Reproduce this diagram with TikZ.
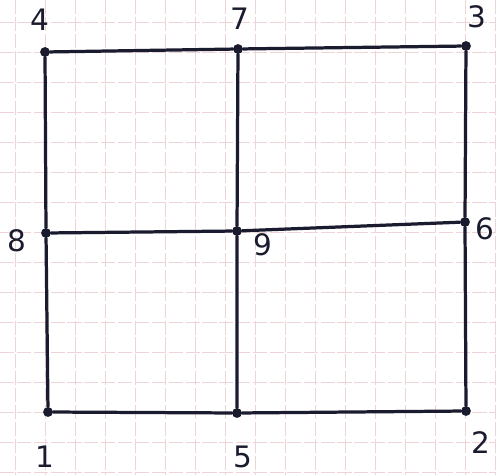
\documentclass[tikz,border=0pt]{standalone}
\usepackage{fontspec}
\setmainfont{DejaVu Sans}
\definecolor{ink}{HTML}{1A1B2E}
\definecolor{paper}{HTML}{EED3D7}

\begin{document}
\begin{tikzpicture}[x=0.025cm,y=-0.025cm,
 vertex/.style={circle,fill=ink,inner sep=0pt,minimum size=7pt},
 edge/.style={ink,line width=2.3pt,line cap=round,line join=round},
 tag/.style={ink,font=\fontsize{21}{23}\selectfont},
 ruling/.style={paper,line width=0.5pt,dash pattern=on 10pt off 2pt}]
\useasboundingbox (0,0) rectangle (496,475);

% Squared paper under the drawing.
\foreach \gx in {15,45,...,495} \draw[ruling] (\gx,0) -- (\gx,475);
\foreach \gy in {22,52,...,472} \draw[ruling] (0,\gy) -- (496,\gy);

% Vertices of the 3x3 grid graph.
\node[vertex] (v4) at (45,52) {};
\node[vertex] (v7) at (238,49) {};
\node[vertex] (v3) at (466,46) {};
\node[vertex] (v8) at (46,233) {};
\node[vertex] (v9) at (237,231) {};
\node[vertex] (v6) at (465,222) {};
\node[vertex] (v1) at (48,412) {};
\node[vertex] (v5) at (237,413) {};
\node[vertex] (v2) at (466,411) {};

% Rows, then columns.
\draw[edge] (v4) -- (v7) -- (v3);
\draw[edge] (v8) -- (v9) -- (v6);
\draw[edge] (v1) -- (v5) -- (v2);
\draw[edge] (v4) -- (v8) -- (v1);
\draw[edge] (v7) -- (v9) -- (v5);
\draw[edge] (v3) -- (v6) -- (v2);

% Hand-written numbers beside the dots.
\node[tag] (t4) at (40,20) {4};
\node[tag] (t7) at (240,19) {7};
\node[tag] (t3) at (477,17) {3};
\node[tag] (t8) at (17,241) {8};
\node[tag] (t9) at (263,245) {9};
\node[tag] (t6) at (485,229) {6};
\node[tag] (t1) at (45,457) {1};
\node[tag] (t5) at (243,457) {5};
\node[tag] (t2) at (481,443) {2};
\end{tikzpicture}
\end{document}
